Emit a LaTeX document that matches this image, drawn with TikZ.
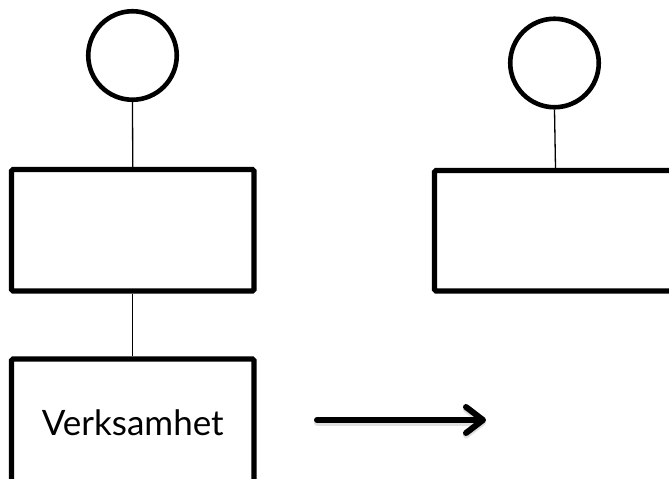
\documentclass[tikz,border=0pt]{standalone}
\usepackage{fontspec}
\setmainfont{Lato}
\usetikzlibrary{arrows.meta}
\begin{document}
\begin{tikzpicture}[x=1pt,y=-1pt,
  role/.style={circle,draw,line width=4.6pt,inner sep=0pt,minimum size=88.5pt},
  unitbox/.style={rectangle,draw,line width=5.2pt,inner sep=0pt,rounded corners=1.5pt},
  link/.style={line width=1.3pt},
  flow/.style={line width=6pt,line cap=round,
    -{Straight Barb[length=17pt,width=26pt,line cap=round,round]}}
]
\useasboundingbox (0,0) rectangle (669,479);
\clip (0,0) rectangle (669,479);

% left column
\node[role] (c1) at (132.5,55.5) {};
\node[unitbox,minimum width=242.5pt,minimum height=121.5pt] (r1) at (132.75,230.25) {};
\node[unitbox,minimum width=242.5pt,minimum height=128pt,font=\fontsize{35}{42}\selectfont] (r3) at (132.75,423) {Verksamhet};

% right column
\node[role] (c2) at (554.5,63) {};
\node[unitbox,minimum width=242pt,minimum height=120.5pt] (r2) at (555.5,230.75) {};

% connectors
\draw[link] (c1.south) -- (r1.north);
\draw[link] (r1.south) -- (r3.north);
\draw[link,shorten >=-5pt] (c2.south) -- (r2.north);

% transition arrow
\coordinate (a1) at (317,420);
\coordinate (a2) at (486,420);
\draw[flow,black!25,opacity=0.5,transform canvas={yshift=-2.5pt}] (a1) -- (a2);
\draw[flow] (a1) -- (a2);
\end{tikzpicture}
\end{document}
